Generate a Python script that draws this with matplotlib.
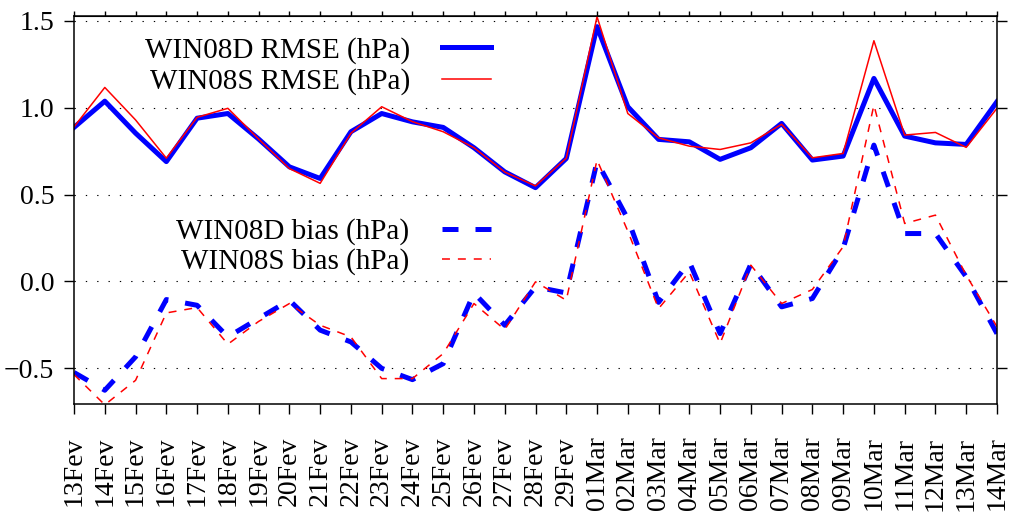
import matplotlib
matplotlib.use('Agg')
import matplotlib.pyplot as plt
from matplotlib.ticker import FuncFormatter

# --- DATA ---
days = ['13Fev', '14Fev', '15Fev', '16Fev', '17Fev', '18Fev', '19Fev', '20Fev',
        '21Fev', '22Fev', '23Fev', '24Fev', '25Fev', '26Fev', '27Fev', '28Fev',
        '29Fev', '01Mar', '02Mar', '03Mar', '04Mar', '05Mar', '06Mar', '07Mar',
        '08Mar', '09Mar', '10Mar', '11Mar', '12Mar', '13Mar', '14Mar']

rmse_d = [0.887, 1.038, 0.854, 0.69, 0.94, 0.967, 0.82, 0.66, 0.593, 0.862,
          0.967, 0.919, 0.887, 0.77, 0.631, 0.54, 0.708, 1.467, 1.006, 0.818,
          0.804, 0.703, 0.77, 0.91, 0.699, 0.722, 1.169, 0.837, 0.798, 0.789, 1.035]
rmse_s = [0.89, 1.117, 0.93, 0.71, 0.945, 0.997, 0.82, 0.65, 0.565, 0.853,
          1.006, 0.92, 0.862, 0.77, 0.63, 0.55, 0.71, 1.524, 0.967, 0.827,
          0.779, 0.76, 0.798, 0.905, 0.712, 0.737, 1.386, 0.843, 0.858, 0.772, 0.997]
bias_d = [-0.524, -0.626, -0.434, -0.104, -0.137, -0.319, -0.213, -0.108, -0.28, -0.348,
          -0.50, -0.565, -0.473, -0.066, -0.252, -0.031, -0.066, 0.69, 0.36, -0.12,
          0.113, -0.30, 0.10, -0.146, -0.098, 0.19, 0.785, 0.276, 0.276, 0.027, -0.30]
bias_s = [-0.536, -0.71, -0.569, -0.181, -0.15, -0.361, -0.23, -0.127, -0.252, -0.319,
          -0.559, -0.559, -0.415, -0.127, -0.277, -0.002, -0.108, 0.70, 0.29, -0.156,
          0.055, -0.357, 0.094, -0.127, -0.046, 0.2, 1.016, 0.334, 0.382, 0.036, -0.26]

yticks = [-0.5, 0.0, 0.5, 1.0, 1.5]

plt.rcParams['font.family'] = ['Liberation Serif', 'DejaVu Serif']
plt.rcParams['font.size'] = 20

fig = plt.figure(figsize=(10.17, 5.2), dpi=100)
ax = fig.add_axes([0.0728, 0.2225, 0.9075, 0.7473])

x = list(range(len(days)))

l1, = ax.plot(x, rmse_d, color='blue', lw=3.6, label='WIN08D RMSE (hPa)')
l2, = ax.plot(x, rmse_s, color='red', lw=1.1, label='WIN08S RMSE (hPa)')
l3, = ax.plot(x, bias_d, color='blue', lw=3.6, linestyle=(0, (3.2, 3.4)),
              dash_capstyle='butt', label='WIN08D bias (hPa)')
l4, = ax.plot(x, bias_s, color='red', lw=1.1, linestyle=(0, (5.2, 5.2)),
              dash_capstyle='butt', label='WIN08S bias (hPa)')

ax.set_xlim(0, len(days) - 1)
ax.set_ylim(-0.707, 1.53)

ax.set_yticks(yticks)
ax.yaxis.set_major_formatter(FuncFormatter(lambda v, p: ('%.1f' % v).replace('-', '\u2212')))
ax.set_xticks(x)
ax.set_xticklabels(days, rotation=90, va='top')

ax.yaxis.grid(True, color='black', linestyle=(0, (1.2, 9)), lw=0.8)
ax.set_axisbelow(True)

for s in ax.spines.values():
    s.set_linewidth(1.1)

ax.tick_params(axis='both', direction='out', length=7.2, width=1.0)
ax.tick_params(axis='x', pad=16)
ax.tick_params(axis='y', pad=7, right=True)

top = ax.secondary_xaxis('top')
top.set_xticks(x)
top.set_xticklabels([])
top.tick_params(direction='out', length=3.5, width=1.0)

leg1 = ax.legend(handles=[l1, l2], loc='upper right', bbox_to_anchor=(0.468, 0.983),
                 frameon=False, markerfirst=False, borderpad=0, handlelength=1.7,
                 handletextpad=1.07, labelspacing=0.15, fontsize=21)
ax.add_artist(leg1)
ax.legend(handles=[l3, l4], loc='upper right', bbox_to_anchor=(0.468, 0.516),
          frameon=False, markerfirst=False, borderpad=0, handlelength=1.7,
          handletextpad=1.12, labelspacing=0.1, fontsize=21)

fig.savefig('out.png', dpi=100)
